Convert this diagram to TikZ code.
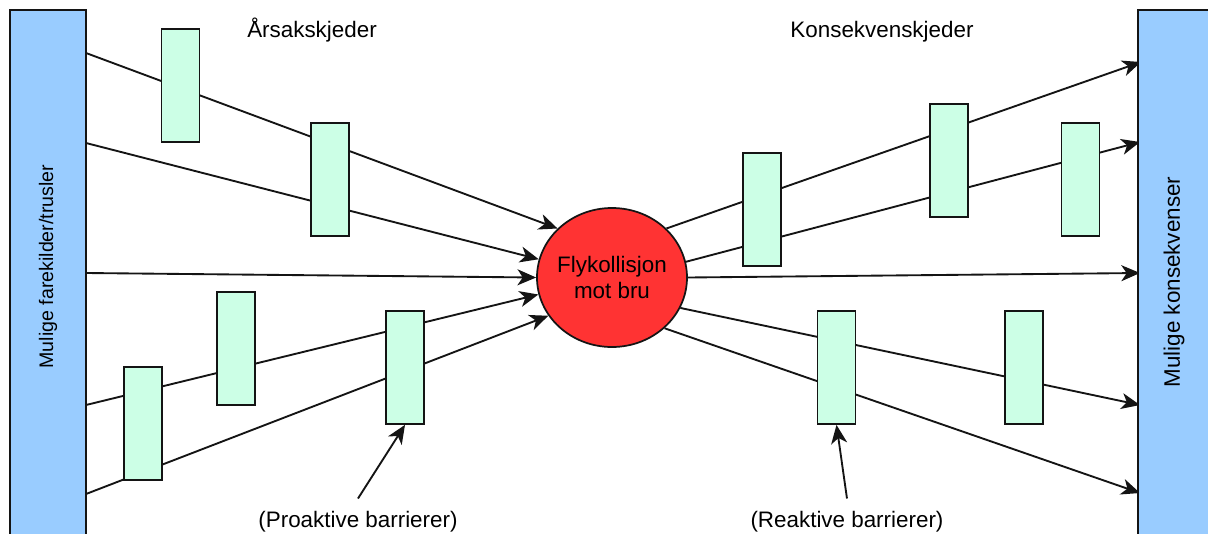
\documentclass[tikz,border=0pt]{standalone}
\usepackage{fontspec}
\setmainfont{Liberation Sans}
\usetikzlibrary{shapes.geometric,arrows.meta}
\pgfdeclarelayer{background}
\pgfsetlayers{background,main}
\definecolor{barblue}{HTML}{99CCFF}
\definecolor{barriergreen}{HTML}{CCFFE6}
\definecolor{eventred}{HTML}{FF3333}
\definecolor{edgeline}{HTML}{141414}

\begin{document}
\begin{tikzpicture}[x=0.75pt,y=-0.75pt,
  sidebar/.style={draw=edgeline, line width=1.3pt, fill=barblue,
    minimum width=57pt, minimum height=401pt, inner sep=0pt},
  barrier/.style={draw=edgeline, line width=1.3pt, fill=barriergreen,
    minimum width=28.5pt, minimum height=84.75pt, inner sep=0pt},
  event/.style={ellipse, draw=edgeline, line width=1.3pt, fill=eventred,
    minimum width=112.5pt, minimum height=104.25pt, inner sep=0pt},
  txt/.style={inner sep=0pt, text=black, font=\fontsize{16.8pt}{19.5pt}\selectfont},
  smalltxt/.style={inner sep=0pt, text=black, font=\fontsize{14.7pt}{17pt}\selectfont},
  chainline/.style={draw=edgeline, line width=1.4pt},
  arr/.style={chainline, -{Stealth[length=14pt,width=12pt,inset=4pt]}}
]
\useasboundingbox (0,0) rectangle (1208,533);
\begin{pgfonlayer}{background}
  \fill[white] (0,0) rectangle (1208,533);
\end{pgfonlayer}

% side bars (threat sources and consequences), cut at the page edge
\begin{scope}
  \clip (0,0) rectangle (1208,533);
  \node[sidebar] (causes) at (48,277.5) {};
  \node[sidebar] (effects) at (1176,277.5) {};
\end{scope}
\node[smalltxt, rotate=90] (causestext) at (48,266.5) {Mulige farekilder/trusler};
\node[txt, rotate=90] (effectstext) at (1174,282) {Mulige konsekvenser};

% headings
\node[txt, anchor=base] (causetitle) at (312,37) {Årsakskjeder};
\node[txt, anchor=base] (effecttitle) at (882,37) {Konsekvenskjeder};

% top event
\node[event] (event) at (612,277.5) {};
\node[txt, align=center] (eventtext) at (612,277) {Flykollisjon\\mot bru};

% barriers on the cause side
\node[barrier] (b1) at (180.5,85.5) {};
\node[barrier] (b2) at (330,179.5) {};
\node[barrier] (b3) at (143,423.5) {};
\node[barrier] (b4) at (236,348.5) {};
\node[barrier] (b5) at (405,367.5) {};
% barriers on the consequence side
\node[barrier] (b6) at (762,209.5) {};
\node[barrier] (b7) at (949,160.5) {};
\node[barrier] (b8) at (1080.5,179.5) {};
\node[barrier] (b9) at (836.5,367.5) {};
\node[barrier] (b10) at (1024,367.5) {};

% chain end points on the side bars
\coordinate (s1) at (86,53);
\coordinate (s2) at (86,143);
\coordinate (s3) at (86,273);
\coordinate (s4) at (86,405);
\coordinate (s5) at (86,494);
\coordinate (e1) at (1141,62);
\coordinate (e2) at (1140,142);
\coordinate (e3) at (1140,273);
\coordinate (e4) at (1140,405);
\coordinate (e5) at (1140,493);

% cause and consequence chains, running behind the barriers
\begin{pgfonlayer}{background}
  \draw[arr] (s1) -- (event.138);
  \draw[arr] (s2) -- (event.166.7);
  \draw[arr] (s3) -- (event.west);
  \draw[arr] (s4) -- (event.193.3);
  \draw[arr] (s5) -- (event.211.7);
  \draw[arr] (event.42) -- (e1);
  \draw[arr] (event.12.6) -- (e2);
  \draw[arr] (event.east) -- (e3);
  \draw[arr] (event.336.8) -- (e4);
  \draw[arr] (event.316.9) -- (e5);
\end{pgfonlayer}

% barrier type labels
\node[txt, anchor=base] (proactive) at (358,527) {(Proaktive barrierer)};
\node[txt, anchor=base] (reactive) at (847,527) {(Reaktive barrierer)};
\draw[arr] ([yshift=9pt]proactive.north) -- (b5.south);
\draw[arr] ([yshift=9pt]reactive.north) -- (b9.south);
\end{tikzpicture}
\end{document}
